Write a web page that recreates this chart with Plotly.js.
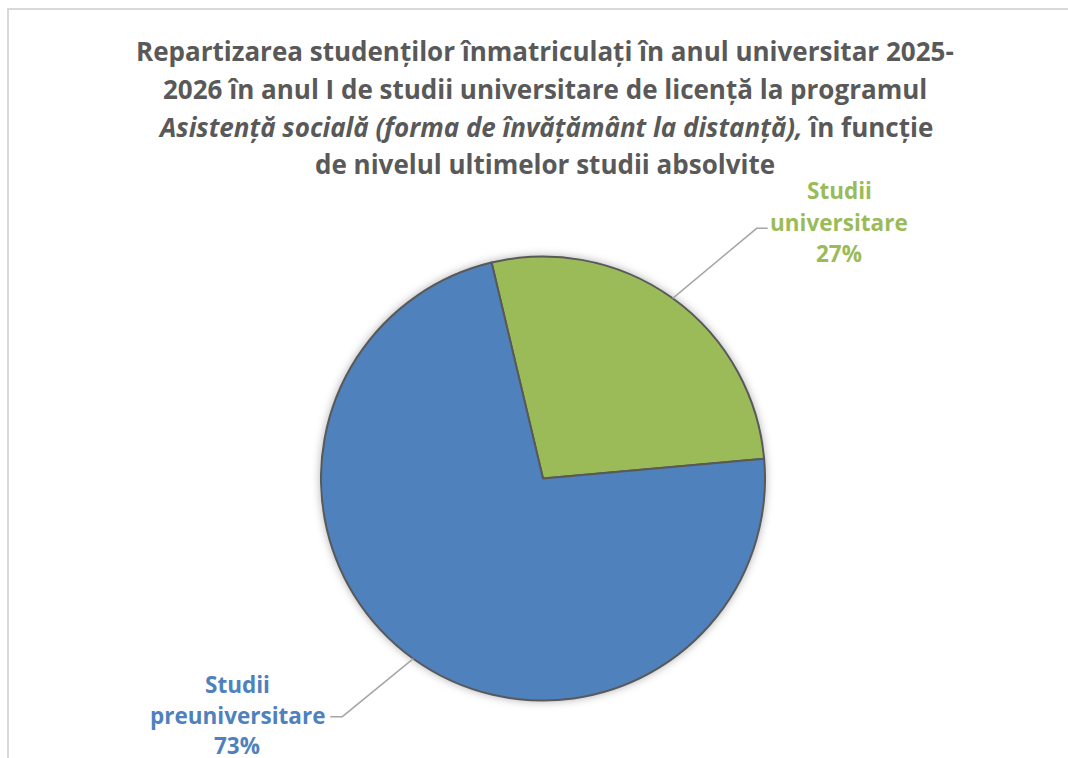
<!DOCTYPE html>
<html>
<head>
<meta charset="utf-8">
<script src="https://cdn.plot.ly/plotly-3.0.1.min.js"></script>
<style>
html, body { margin: 0; padding: 0; background: #ffffff; }
#chart { width: 1068px; height: 758px; }
.pielayer .trace { filter: drop-shadow(0px 0px 4px rgba(0,0,0,0.30)); }
</style>
</head>
<body>
<div id="chart"></div>
<script>
// ---- data ----
const categories = ['Studii universitare', 'Studii preuniversitare'];
const values = [27.3, 72.7];
const sliceColors = ['#9BBB59', '#4F81BD'];
const titleLines = [
  'Repartizarea studenților înmatriculați în anul universitar 2025-',
  '2026 în anul I de studii universitare de licență la programul',
  '<i>Asistență socială (forma de învățământ la distanță),</i> în funcție',
  'de nivelul ultimelor studii absolvite'
];

// ---- layout constants ----
const W = 1068, H = 758;
const FONT = '"Open Sans", Lato, sans-serif';
const cx = 543, cy = 478.5, R = 222;
const rotation = -13.4;
const domain = { x: [(cx - R) / W, (cx + R) / W], y: [1 - (cy + R) / H, 1 - (cy - R) / H] };

const titleCenterX = 545;
const titleLineY = [51, 89, 127, 164];
const titleSize = 26;

// label placement (per slice): elbow offset from slice edge, horizontal tail, text centre and line positions
const labelCfg = [
  { elbow: [84, -70], tail: 11, textX: 839, lineY: [190, 222, 254] },
  { elbow: [-71, 58], tail: -12, textX: 237, lineY: [684, 715, 745] }
];
const labelSize = 22.5;

const px = x => x / W;
const py = y => 1 - y / H;

const total = values.reduce((a, b) => a + b, 0);
const annotations = [];
const shapes = [];

titleLines.forEach((t, i) => {
  annotations.push({
    xref: 'paper', yref: 'paper', x: px(titleCenterX), y: py(titleLineY[i]),
    xanchor: 'center', yanchor: 'middle', showarrow: false, text: '<b>' + t + '</b>',
    font: { family: FONT, size: titleSize, color: '#595959' }
  });
});

let startAngle = rotation;
values.forEach((v, i) => {
  const span = v / total * 360;
  const mid = (startAngle + span / 2) * Math.PI / 180;
  startAngle += span;
  const ex = cx + R * Math.sin(mid), ey = cy - R * Math.cos(mid);
  const cfg = labelCfg[i];
  const bx = ex + cfg.elbow[0], by = ey + cfg.elbow[1];
  const tx = bx + cfg.tail;
  shapes.push({
    type: 'path', xref: 'paper', yref: 'paper',
    path: `M ${px(ex)} ${py(ey)} L ${px(bx)} ${py(by)} L ${px(tx)} ${py(by)}`,
    line: { color: '#A6A6A6', width: 1.5 }
  });
  const parts = categories[i].split(' ');
  const lines = [parts[0], parts.slice(1).join(' '), Math.round(v / total * 100) + '%'];
  lines.forEach((ln, j) => {
    annotations.push({
      xref: 'paper', yref: 'paper', x: px(cfg.textX), y: py(cfg.lineY[j]),
      xanchor: 'center', yanchor: 'middle', showarrow: false, text: '<b>' + ln + '</b>',
      font: { family: FONT, size: labelSize, color: sliceColors[i] }
    });
  });
});

// chart-area border (top and left edges visible)
shapes.push({
  type: 'rect', xref: 'paper', yref: 'paper',
  x0: px(8), x1: 1.05, y0: -0.05, y1: py(9),
  line: { color: '#D9D9D9', width: 2 }, fillcolor: 'rgba(0,0,0,0)', layer: 'below'
});

const trace = {
  type: 'pie',
  labels: categories,
  values: values,
  sort: false,
  direction: 'clockwise',
  rotation: rotation,
  domain: domain,
  textinfo: 'none',
  hoverinfo: 'label+percent',
  marker: { colors: sliceColors, line: { color: '#595959', width: 2 } },
  showlegend: false
};

const layout = {
  width: W, height: H,
  margin: { l: 0, r: 0, t: 0, b: 0, pad: 0 },
  paper_bgcolor: '#ffffff',
  showlegend: false,
  annotations: annotations,
  shapes: shapes
};

Plotly.newPlot('chart', [trace], layout, { displayModeBar: false, staticPlot: true });
</script>
</body>
</html>
